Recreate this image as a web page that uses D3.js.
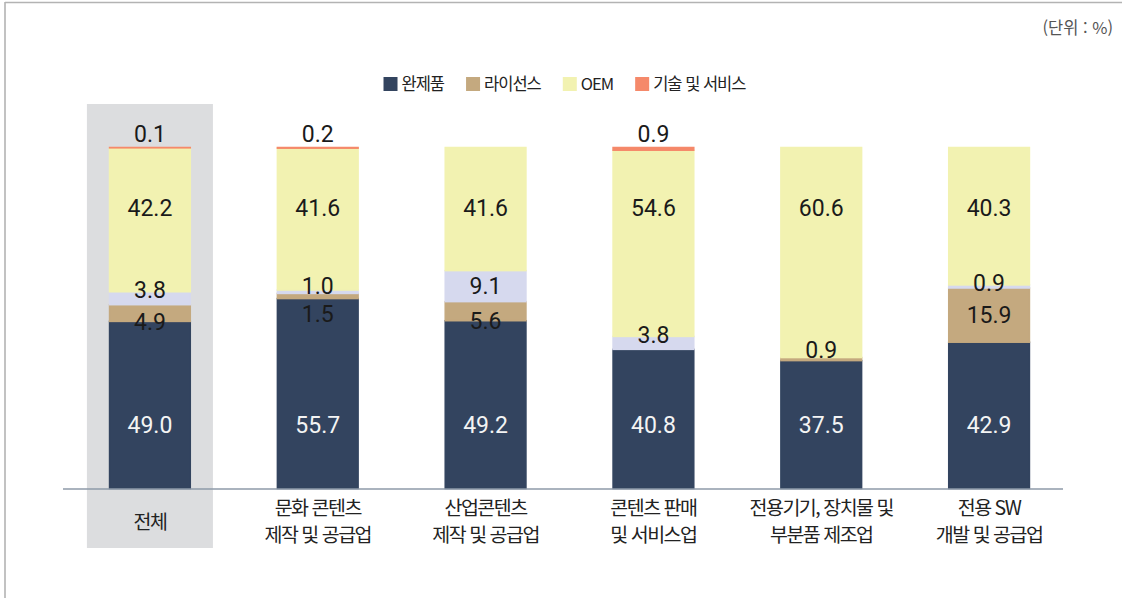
<!DOCTYPE html>
<html lang="ko">
<head>
<meta charset="utf-8">
<script src="https://cdn.jsdelivr.net/npm/d3@7"></script>
<style>
  html, body { margin: 0; padding: 0; background: #fff; }
  svg { display: block; }
</style>
</head>
<body>
<svg id="chart" width="1122" height="598"></svg>
<script>
// ---------------- data ----------------
const categories = [
  ["전체"],
  ["문화 콘텐츠", "제작 및 공급업"],
  ["산업콘텐츠", "제작 및 공급업"],
  ["콘텐츠 판매", "및 서비스업"],
  ["전용기기, 장치물 및", "부분품 제조업"],
  ["전용 SW", "개발 및 공급업"]
];
const seriesNames = ["완제품", "라이선스", "기타", "OEM", "기술 및 서비스"];
const finishedGoods = [49.0, 55.7, 49.2, 40.8, 37.5, 42.9];
const licenseVals   = [4.9, 1.5, 5.6, 0, 0.9, 15.9];
const otherVals     = [3.8, 1.0, 9.1, 3.8, 0, 0.9];
const oemVals       = [42.2, 41.6, 41.6, 54.6, 60.6, 40.3];
const techVals      = [0.1, 0.2, 0, 0.9, 0, 0];
const legendNames   = ["완제품", "라이선스", "OEM", "기술 및 서비스"];
const unitText = "(단위 : %)";

// ---------------- styles ----------------
const colors = {
  "완제품": "#33445f",
  "라이선스": "#c4a97f",
  "기타": "#d6d9ee",
  "OEM": "#f2f2b1",
  "기술 및 서비스": "#f5896a"
};
const numFont = "Roboto, 'Noto Sans CJK KR', sans-serif";
const korFont = "'Noto Sans CJK KR', 'Noto Sans', sans-serif";

const svg = d3.select("#chart");

// frame
svg.append("line").attr("x1", 5).attr("x2", 1122).attr("y1", 2.5).attr("y2", 2.5)
  .attr("stroke", "#b3b3b3").attr("stroke-width", 1.6);
svg.append("line").attr("x1", 5).attr("x2", 5).attr("y1", 2).attr("y2", 598)
  .attr("stroke", "#b3b3b3").attr("stroke-width", 1.6);

// unit
svg.append("text").attr("x", 1113).attr("y", 28).attr("dy", "0.36em")
  .attr("text-anchor", "end").attr("font-family", korFont).attr("font-size", 16.5)
  .attr("fill", "#555").text(unitText);

// scales
const keys = categories.map(c => c.join(" "));
const x = d3.scaleBand().domain(keys).range([66, 1073]).paddingInner(0.51).paddingOuter(0.255);
const y = d3.scaleLinear().domain([0, 100]).range([488.5, 147.5]);

// highlight background for the total category
svg.append("rect")
  .attr("x", x(keys[0]) + x.bandwidth() / 2 - 63)
  .attr("width", 126)
  .attr("y", 104).attr("height", 444)
  .attr("fill", "#dcdddf");

// stack
const rows = keys.map((k, i) => ({
  key: k,
  "완제품": finishedGoods[i],
  "라이선스": licenseVals[i],
  "기타": otherVals[i],
  "OEM": oemVals[i],
  "기술 및 서비스": techVals[i]
}));
const stacked = d3.stack().keys(seriesNames)(rows);

// index of the topmost non-zero series per category (fills the bar to 100%)
const lastIdx = rows.map(r => {
  let li = 0;
  seriesNames.forEach((s, si) => { if (r[s] > 0) li = si; });
  return li;
});

const segs = [];
stacked.forEach((layer, si) => {
  layer.forEach((d, ci) => {
    const v = rows[ci][layer.key];
    if (!(v > 0)) return;
    const y0 = Math.min(100, d[0]);
    const y1 = si === lastIdx[ci] ? 100 : Math.min(100, d[1]);
    segs.push({ series: layer.key, si, ci, key: rows[ci].key, v, y0, y1 });
  });
});

const sw = 1.5;
svg.append("g").selectAll("rect").data(segs).join("rect")
  .attr("x", d => x(d.key) + sw / 2)
  .attr("width", x.bandwidth() - sw)
  .attr("y", d => y(d.y1))
  .attr("height", d => Math.max(0, y(d.y0) - y(d.y1)))
  .attr("fill", d => colors[d.series])
  .attr("stroke", d => colors[d.series])
  .attr("stroke-width", sw);

// axis baseline
svg.append("line").attr("x1", 63).attr("x2", 1063).attr("y1", y(0) + 0.5).attr("y2", y(0) + 0.5)
  .attr("stroke", "#8e9aa8").attr("stroke-width", 1.5);

// value label positions for the two thin middle segments
const minGap = 28;
function middleLabels(ci) {
  const lav = segs.find(d => d.ci === ci && d.series === "기타");
  const tan = segs.find(d => d.ci === ci && d.series === "라이선스");
  const res = {};
  if (lav) {
    const top = y(lav.y1), bot = y(lav.y0);
    res.lav = (bot - top) < 20 ? top - 2 : (top + bot) / 2;
  }
  if (tan) {
    const top = y(tan.y1), bot = y(tan.y0);
    if (bot - top >= 20) res.tan = (top + bot) / 2;
    else if (res.lav !== undefined) res.tan = Math.max(bot, res.lav + 24);
    else res.tan = top - 8;
  }
  if (res.lav !== undefined && res.tan !== undefined && res.tan - res.lav < minGap) {
    const extra = (minGap - (res.tan - res.lav)) / 2;
    res.lav -= extra; res.tan += extra;
  }
  return res;
}
function labelY(d) {
  const top = y(d.y1), bot = y(d.y0);
  switch (d.series) {
    case "완제품": return y(18.7);
    case "OEM": return y(82.4);
    case "기술 및 서비스": return y(100) - 14;
    case "기타": return middleLabels(d.ci).lav;
    case "라이선스": return middleLabels(d.ci).tan;
  }
  return (top + bot) / 2;
}
svg.append("g").selectAll("text").data(segs).join("text")
  .attr("x", d => x(d.key) + x.bandwidth() / 2)
  .attr("y", d => labelY(d))
  .attr("dy", "0.36em")
  .attr("text-anchor", "middle")
  .attr("font-family", numFont)
  .attr("font-size", 23)
  .attr("fill", d => d.series === "완제품" ? "#f4f4f4" : "#1a1a1a")
  .text(d => d.v.toFixed(1));

// category labels
const catG = svg.append("g");
categories.forEach((lines, i) => {
  const cx = x(keys[i]) + x.bandwidth() / 2;
  const lh = 27;
  const startY = 521.5 - (lines.length - 1) * lh / 2;
  lines.forEach((ln, j) => {
    catG.append("text").attr("x", cx).attr("y", startY + j * lh).attr("dy", "0.36em")
      .attr("text-anchor", "middle").attr("font-family", korFont)
      .attr("font-size", 19.5).attr("letter-spacing", -1.5).attr("fill", "#222").text(ln);
  });
});

// legend
const lg = svg.append("g");
const items = legendNames.map(n => {
  const g = lg.append("g");
  g.append("rect").attr("width", 14).attr("height", 14).attr("y", 77).attr("fill", colors[n]);
  const t = g.append("text").attr("x", 18).attr("y", 84).attr("dy", "0.36em")
    .attr("font-family", korFont).attr("font-size", 16.5).attr("letter-spacing", -1)
    .attr("fill", "#222").text(n);
  return { g, w: 18 + t.node().getComputedTextLength() };
});
const gap = 22;
const total = d3.sum(items, d => d.w) + gap * (items.length - 1);
let lx = 564.5 - total / 2;
items.forEach(it => { it.g.attr("transform", `translate(${lx},0)`); lx += it.w + gap; });
</script>
</body>
</html>
